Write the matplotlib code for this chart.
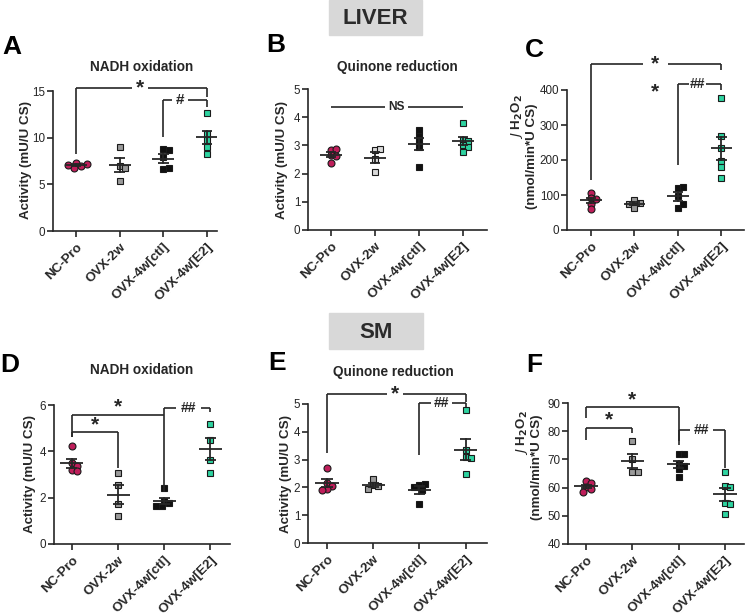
import numpy as np
import matplotlib
matplotlib.use('Agg')
import matplotlib.pyplot as plt
from matplotlib.patches import Rectangle

plt.rcParams['font.family'] = ['Liberation Sans', 'DejaVu Sans']

groups = ['NC-Pro', 'OVX-2w', 'OVX-4w[ctl]', 'OVX-4w[E2]']

# ---------------- data ----------------
a_ncpro = [7.3, 7.0, 6.8, 7.1, 7.2]
a_ovx2w = [9.0, 7.0, 6.8, 5.4]
a_ctl = [8.8, 8.7, 7.9, 6.6, 6.7]
a_e2 = [12.6, 10.4, 9.8, 9.0, 8.3]

b_ncpro = [2.85, 2.87, 2.65, 2.62, 2.38]
b_ovx2w = [2.83, 2.87, 2.52, 2.05]
b_ctl = [3.35, 3.55, 3.15, 2.95, 2.25]
b_e2 = [3.8, 3.2, 3.15, 3.0, 2.95, 2.78]

c_ncpro = [107, 92, 88, 75, 60]
c_ovx2w = [86, 78, 74, 64]
c_ctl = [121, 124, 96, 64, 74]
c_e2 = [376, 269, 233, 197, 179, 148]

d_ncpro = [4.23, 3.5, 3.38, 3.2, 3.15]
d_ovx2w = [3.05, 2.55, 1.73, 1.2]
d_ctl = [2.4, 1.85, 1.75, 1.65, 1.65]
d_e2 = [5.2, 4.5, 3.62, 3.08]

e_ncpro = [2.7, 2.15, 2.05, 1.95, 1.9]
e_ovx2w = [2.3, 2.1, 2.05, 1.95]
e_ctl = [2.1, 2.13, 2.0, 1.92, 1.4]
e_e2 = [4.78, 3.35, 3.1, 3.05, 2.5]

f_ncpro = [62.2, 61.5, 60.3, 59.5, 58.6]
f_ovx2w = [76.7, 70.0, 65.5, 65.5]
f_ctl = [71.8, 71.8, 68.5, 67.5, 66.5, 63.6]
f_e2 = [65.4, 60.5, 60.3, 54.5, 54.3, 50.5]

# ---------------- style ----------------
W, H = 745, 615
fig = plt.figure(figsize=(W / 100, H / 100), dpi=100)
INK = '#262626'
RED = '#BE1E5A'
GRAY = '#9A9A9A'
LGRAY = '#DADADA'
BLACK = '#111111'
TEAL = '#2ED3A0'


def fx(x):
    return x / W


def fy(y):
    return 1 - y / H


def make_ax(left, right, top, bottom, xlim, ylim, yticks):
    ax = fig.add_axes([fx(left), fy(bottom), (right - left) / W, (bottom - top) / H])
    ax.set_xlim(*xlim)
    ax.set_ylim(*ylim)
    ax.set_yticks(yticks)
    ax.set_xticks(range(4))
    for s in ['top', 'right']:
        ax.spines[s].set_visible(False)
    for s in ['left', 'bottom']:
        ax.spines[s].set_linewidth(1.2)
        ax.spines[s].set_color(INK)
    ax.tick_params(axis='both', length=4, width=1.2, color=INK, labelcolor=INK)
    ax.tick_params(axis='y', labelsize=8.4, pad=1.5)
    ax.tick_params(axis='x', pad=3)
    ax.set_xticklabels(groups, rotation=45, ha='right', rotation_mode='anchor',
                       fontsize=9.6, fontweight='bold', color=INK)
    ax.patch.set_alpha(0)
    return ax


def swarm(ax, xc, vals, d_px=5.2):
    # place points so markers barely overlap (simple beeswarm)
    bbox = ax.get_window_extent()
    x0, x1 = ax.get_xlim()
    y0, y1 = ax.get_ylim()
    sx = bbox.width / (x1 - x0)
    sy = bbox.height / (y1 - y0)
    placed = []
    offs = []
    cands = [0.0]
    for k in range(1, 10):
        cands += [k * 0.5 * d_px, -k * 0.5 * d_px]
    for v in vals:
        yp = v * sy
        for c in cands:
            ok = all((c - px) ** 2 + (yp - py) ** 2 >= d_px ** 2 for px, py in placed)
            if ok:
                placed.append((c, yp))
                offs.append(c / sx)
                break
    return [xc + o for o in offs]


def group(ax, i, vals, marker, color, ms):
    xs = swarm(ax, i, vals)
    ax.plot(xs, vals, ls='none', marker=marker, ms=ms, mfc=color, mec='#1a1a1a',
            mew=0.8, zorder=3, clip_on=False)
    v = np.asarray(vals, float)
    m = v.mean()
    sem = v.std(ddof=1) / np.sqrt(len(v))
    lw = 1.3
    ax.plot([i - 0.25, i + 0.25], [m, m], color=INK, lw=lw, zorder=4, solid_capstyle='butt')
    ax.plot([i, i], [m - sem, m + sem], color=INK, lw=lw, zorder=4)
    for yy in (m - sem, m + sem):
        ax.plot([i - 0.12, i + 0.12], [yy, yy], color=INK, lw=lw, zorder=4, solid_capstyle='butt')


def line(ax, xs, ys):
    ax.plot(xs, ys, color=INK, lw=1.2, clip_on=False, zorder=5, solid_capstyle='butt')


def bracket(ax, x1, x2, ytop, y1b, y2b, text, xt, gap, fs=10, above=None):
    line(ax, [x1, x1], [y1b, ytop])
    line(ax, [x2, x2], [y2b, ytop])
    if above is None:
        line(ax, [x1, xt - gap], [ytop, ytop])
        line(ax, [xt + gap, x2], [ytop, ytop])
        ax.text(xt, ytop, text, ha='center', va='center', fontsize=fs,
                fontweight='bold', color=INK, clip_on=False)
    else:
        line(ax, [x1, x2], [ytop, ytop])
        ax.text(xt, above, text, ha='center', va='center', fontsize=fs,
                fontweight='bold', color=INK, clip_on=False)


def panel_data(ax, data, gray_col):
    group(ax, 0, data[0], 'o', RED, 5.0)
    group(ax, 1, data[1], 's', gray_col, 4.3)
    group(ax, 2, data[2], 's', BLACK, 4.3)
    group(ax, 3, data[3], 's', TEAL, 4.3)


def ylab(x, y, s, fs=9.6):
    fig.text(fx(x), fy(y), s, rotation=90, ha='center', va='center',
             fontsize=fs, fontweight='bold', color=INK)


def letter(x, y, s):
    fig.text(fx(x), fy(y), s, ha='center', va='center', fontsize=19,
             fontweight='bold', color='black')


def title(x, y, s):
    fig.text(fx(x), fy(y), s, ha='center', va='center', fontsize=9.8,
             fontweight='bold', color=INK)


# ---------------- section headers ----------------
for (x0, y0, x1, y1, s) in [(329, 0, 422, 35, 'LIVER'), (329, 313, 423, 349, 'SM')]:
    fig.patches.append(Rectangle((fx(x0), fy(y1)), (x1 - x0) / W, (y1 - y0) / H,
                                 transform=fig.transFigure, color='#D8D8D8', zorder=0))
    fig.text(fx((x0 + x1) / 2), fy((y0 + y1) / 2 + 1), s, ha='center', va='center',
             fontsize=16, fontweight='bold', color='#2b2b2b')

# ---------------- Panel A ----------------
axA = make_ax(53, 217, 91, 231, (-0.53, 3.23), (0, 15), [0, 5, 10, 15])
panel_data(axA, [a_ncpro, a_ovx2w, a_ctl, a_e2], GRAY)
bracket(axA, 0, 3, 15.3, 8.3, 14.4, '*', 1.46, 0.19, fs=15)
bracket(axA, 2, 3, 14.0, 10.1, 13.3, '#', 2.38, 0.19, fs=11)
letter(12, 47, 'A')
title(142, 67, 'NADH oxidation')
ylab(26, 160, 'Activity (mU/U CS)')

# ---------------- Panel B ----------------
axB = make_ax(308, 487, 89, 230, (-0.52, 3.55), (0, 5), [0, 1, 2, 3, 4, 5])
panel_data(axB, [b_ncpro, b_ovx2w, b_ctl, b_e2], LGRAY)
line(axB, [0, 1.49 - 0.27], [4.35, 4.35])
line(axB, [1.49 + 0.27, 3], [4.35, 4.35])
axB.text(1.49, 4.35, 'NS', ha='center', va='center', fontsize=8.6, fontweight='bold', color=INK)
letter(276, 45, 'B')
title(397, 67, 'Quinone reduction')
ylab(282, 160, 'Activity (mU/U CS)')

# ---------------- Panel C ----------------
axC = make_ax(567, 744, 90, 230, (-0.55, 3.52), (0, 400), [0, 100, 200, 300, 400])
panel_data(axC, [c_ncpro, c_ovx2w, c_ctl, c_e2], GRAY)
bracket(axC, 0, 3, 474, 143, 457, '*', 1.48, 0.29, fs=15)
bracket(axC, 2, 3, 416, 186, 400, '##', 2.45, 0.19, fs=10)
axC.text(1.48, 394, '*', ha='center', va='center', fontsize=15, fontweight='bold',
         color=INK, clip_on=False)
letter(534, 50, 'C')
ylab(517, 117, r'$\mathit{J}$ H$_\mathbf{2}$O$_\mathbf{2}$')
ylab(532, 156, '(nmol/min*U CS)')

# ---------------- Panel D ----------------
axD = make_ax(54, 230, 405, 544, (-0.39, 3.43), (0, 6), [0, 2, 4, 6])
panel_data(axD, [d_ncpro, d_ovx2w, d_ctl, d_e2], GRAY)
bracket(axD, 0, 2, 5.57, 4.63, 2.26, '*', 1.0, 0, fs=15, above=5.9)
bracket(axD, 0, 1, 4.85, 4.63, 3.27, '*', 0.5, 0, fs=15, above=5.15)
bracket(axD, 2, 3, 5.86, 5.57, 5.71, '##', 2.52, 0.27, fs=10)
letter(10, 365, 'D')
title(142, 370, 'NADH oxidation')
ylab(30, 474, 'Activity (mU/U CS)')

# ---------------- Panel E ----------------
axE = make_ax(308, 487, 404, 543, (-0.41, 3.46), (0, 5), [0, 1, 2, 3, 4, 5])
panel_data(axE, [e_ncpro, e_ovx2w, e_ctl, e_e2], GRAY)
bracket(axE, 0, 3, 5.36, 3.23, 5.08, '*', 1.47, 0.18, fs=15)
bracket(axE, 2, 3, 5.02, 3.17, 4.9, '##', 2.48, 0.22, fs=10)
letter(277, 363, 'E')
title(393, 372, 'Quinone reduction')
ylab(286, 474, 'Activity (mU/U CS)')

# ---------------- Panel F ----------------
axF = make_ax(568, 744, 403, 544, (-0.39, 3.41), (40, 90), [40, 50, 60, 70, 80, 90])
panel_data(axF, [f_ncpro, f_ovx2w, f_ctl, f_e2], GRAY)
bracket(axF, 0, 2, 88.5, 84.7, 75.2, '*', 1.0, 0, fs=15, above=91.2)
bracket(axF, 0, 1, 81.1, 77.0, 79.3, '*', 0.5, 0, fs=15, above=84.0)
bracket(axF, 2, 3, 80.5, 76.4, 66.9, '##', 2.5, 0.25, fs=10)
letter(534, 365, 'F')
ylab(522, 433, r'$\mathit{J}$ H$_\mathbf{2}$O$_\mathbf{2}$')
ylab(537, 467, '(nmol/min*U CS)')

fig.savefig('out.png', dpi=100)
